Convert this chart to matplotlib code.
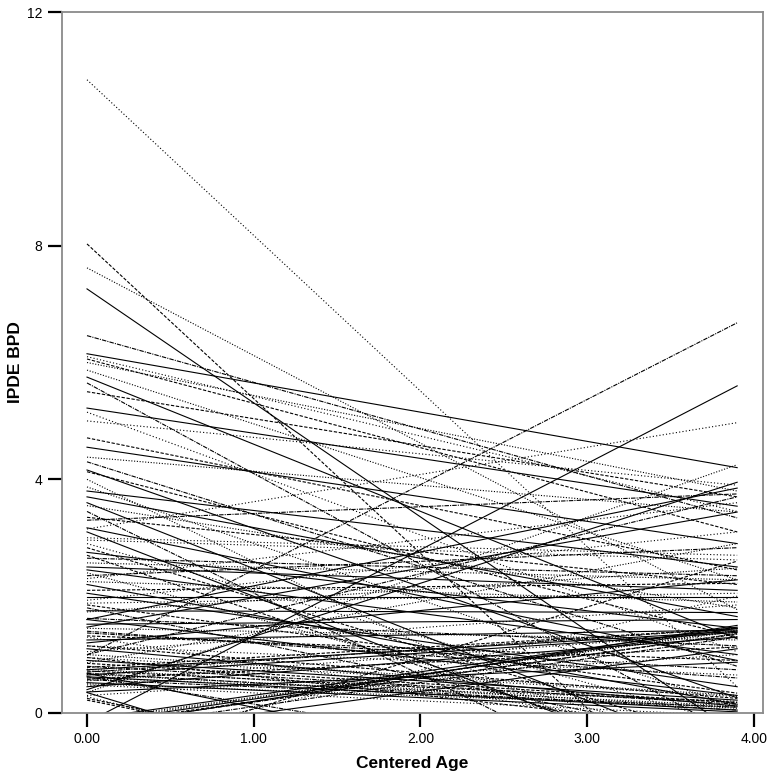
import numpy as np
import matplotlib
matplotlib.use('Agg')
import matplotlib.pyplot as plt

plt.rcParams['font.family'] = ['Liberation Sans', 'DejaVu Sans']

# fitted lines per subject: value at centered age 0 and at 3.9
age_start = 0.0
age_end = 3.9
y_start = [10.84, 8.03, 7.62, 7.26, 6.46, 6.15, 6.10, 6.06, 5.87, 5.75, 5.65, 5.22, 5.15, 4.71, 4.38, 4.16,
           0.99, -0.16, 3.15, 4.13, 3.87, 3.70, 3.30, 3.17, 2.96, 2.83, 2.57, 2.45, 2.35, 1.99, 1.93, 1.85,
           1.73, 1.47, 1.37, 1.20, 1.05, 0.95, 0.86, 0.74, 0.70, 0.65, 0.60, 0.58, 0.50, 0.45, 0.68, 0.36,
           0.30, 0.22, 0.35, 0.40, 1.00, 1.60, 2.30, -0.20, -0.15, -0.25, -0.30, -0.40, -0.60, -0.80,
           4.00, 3.60, 3.45, 3.10, 2.90, 2.70, 2.40, 2.20, 1.80, 1.60, 1.30, 1.15,
           1.00, 0.90, 0.80, 1.10, 0.95, 0.85, 0.75, 0.68, 0.62, 0.35, 0.28, 0.25,
           1.45, 1.52, 1.62, 1.75, 1.88, 2.10, 2.25, 2.50, 2.65, 2.75, 3.00, 3.35, 3.55, 3.80,
           4.30, 4.55, 5.00, 5.50, 6.00, 1.25, 1.40, 2.05, 0.55, 0.78,
           0.66, 0.62, 0.57, 0.52, 0.48, 0.72, -0.12, -0.18, -0.22, -0.10, 1.15, 1.32]
y_end = [0.45, -2.30, 1.77, -0.35, 3.34, 4.20, 3.45, 3.10, 2.28, 1.27, -0.40, 3.54, 1.05, 2.45, 3.44, 0.26,
         6.68, 5.60, 4.97, 1.30, 0.10, 1.65, 3.75, 0.90, 2.62, -0.50, 2.28, 1.00, 2.83, 1.99, 3.10, 0.34,
         2.48, 3.44, 0.74, 2.28, 1.85, -0.30, 2.90, 1.40, 1.45, 1.38, 0.20, 1.13, 0.10, 1.30, 0.05, 0.87,
         1.00, -2.00, 4.25, 3.95, 3.70, 3.85, 3.60, 1.35, 1.42, 1.50, 1.30, 1.10, 2.00, 2.60,
         -1.50, -0.80, -2.00, -1.20, -0.20, -1.00, -0.60, 0.15, -0.50, 0.30, -0.40, 0.25,
         0.30, 0.22, 0.15, 0.12, 0.28, 0.18, 0.08, -1.60, -1.20, -3.00, -2.50, -2.00,
         1.25, 1.60, 1.15, 1.72, 2.05, 2.22, 1.90, 2.10, 2.35, 1.45, 2.70, 2.20, 1.80, 2.50,
         0.80, 2.90, 3.90, 3.70, 3.80, 1.42, 0.60, 0.45, 1.38, 1.45,
         0.12, 0.05, 0.10, 0.02, -0.05, 0.18, 1.40, 1.45, 1.36, 1.47, 0.65, 0.90]

x_ticks = [0, 1, 2, 3, 4]
x_tick_labels = ['0.00', '1.00', '2.00', '3.00', '4.00']
y_ticks = [0, 4, 8, 12]
y_tick_labels = ['0', '4', '8', '12']

dash_cycle = [(0, (1, 2)), (0, (3, 1.5)), (0, (1, 1.5)), '-', (0, (4, 1, 1, 1)), '-']

fig = plt.figure(figsize=(7.71, 7.76), dpi=100)
ax = fig.add_axes([62 / 771, 63 / 776, 701 / 771, 701 / 776])

for i, (a, b) in enumerate(zip(y_start, y_end)):
    ax.plot([age_start, age_end], [a, b], color='black', lw=0.8,
            linestyle=dash_cycle[i % len(dash_cycle)])

ax.set_xlim(-0.15, 4.055)
ax.set_ylim(0, 12)
ax.set_xticks(x_ticks)
ax.set_xticklabels(x_tick_labels)
ax.set_yticks(y_ticks)
ax.set_yticklabels(y_tick_labels)
ax.tick_params(axis='both', length=10, width=1.6, color='black', labelsize=10)
ax.tick_params(axis='x', pad=4)
ax.tick_params(axis='y', pad=4)
for s in ax.spines.values():
    s.set_color('#8a8a8a')
    s.set_linewidth(1.3)

ax.set_xlabel('Centered Age', fontsize=12.5, fontweight='bold', labelpad=7)
ax.set_ylabel('IPDE BPD', fontsize=12.5, fontweight='bold', labelpad=3)

fig.savefig('out.png', dpi=100)
